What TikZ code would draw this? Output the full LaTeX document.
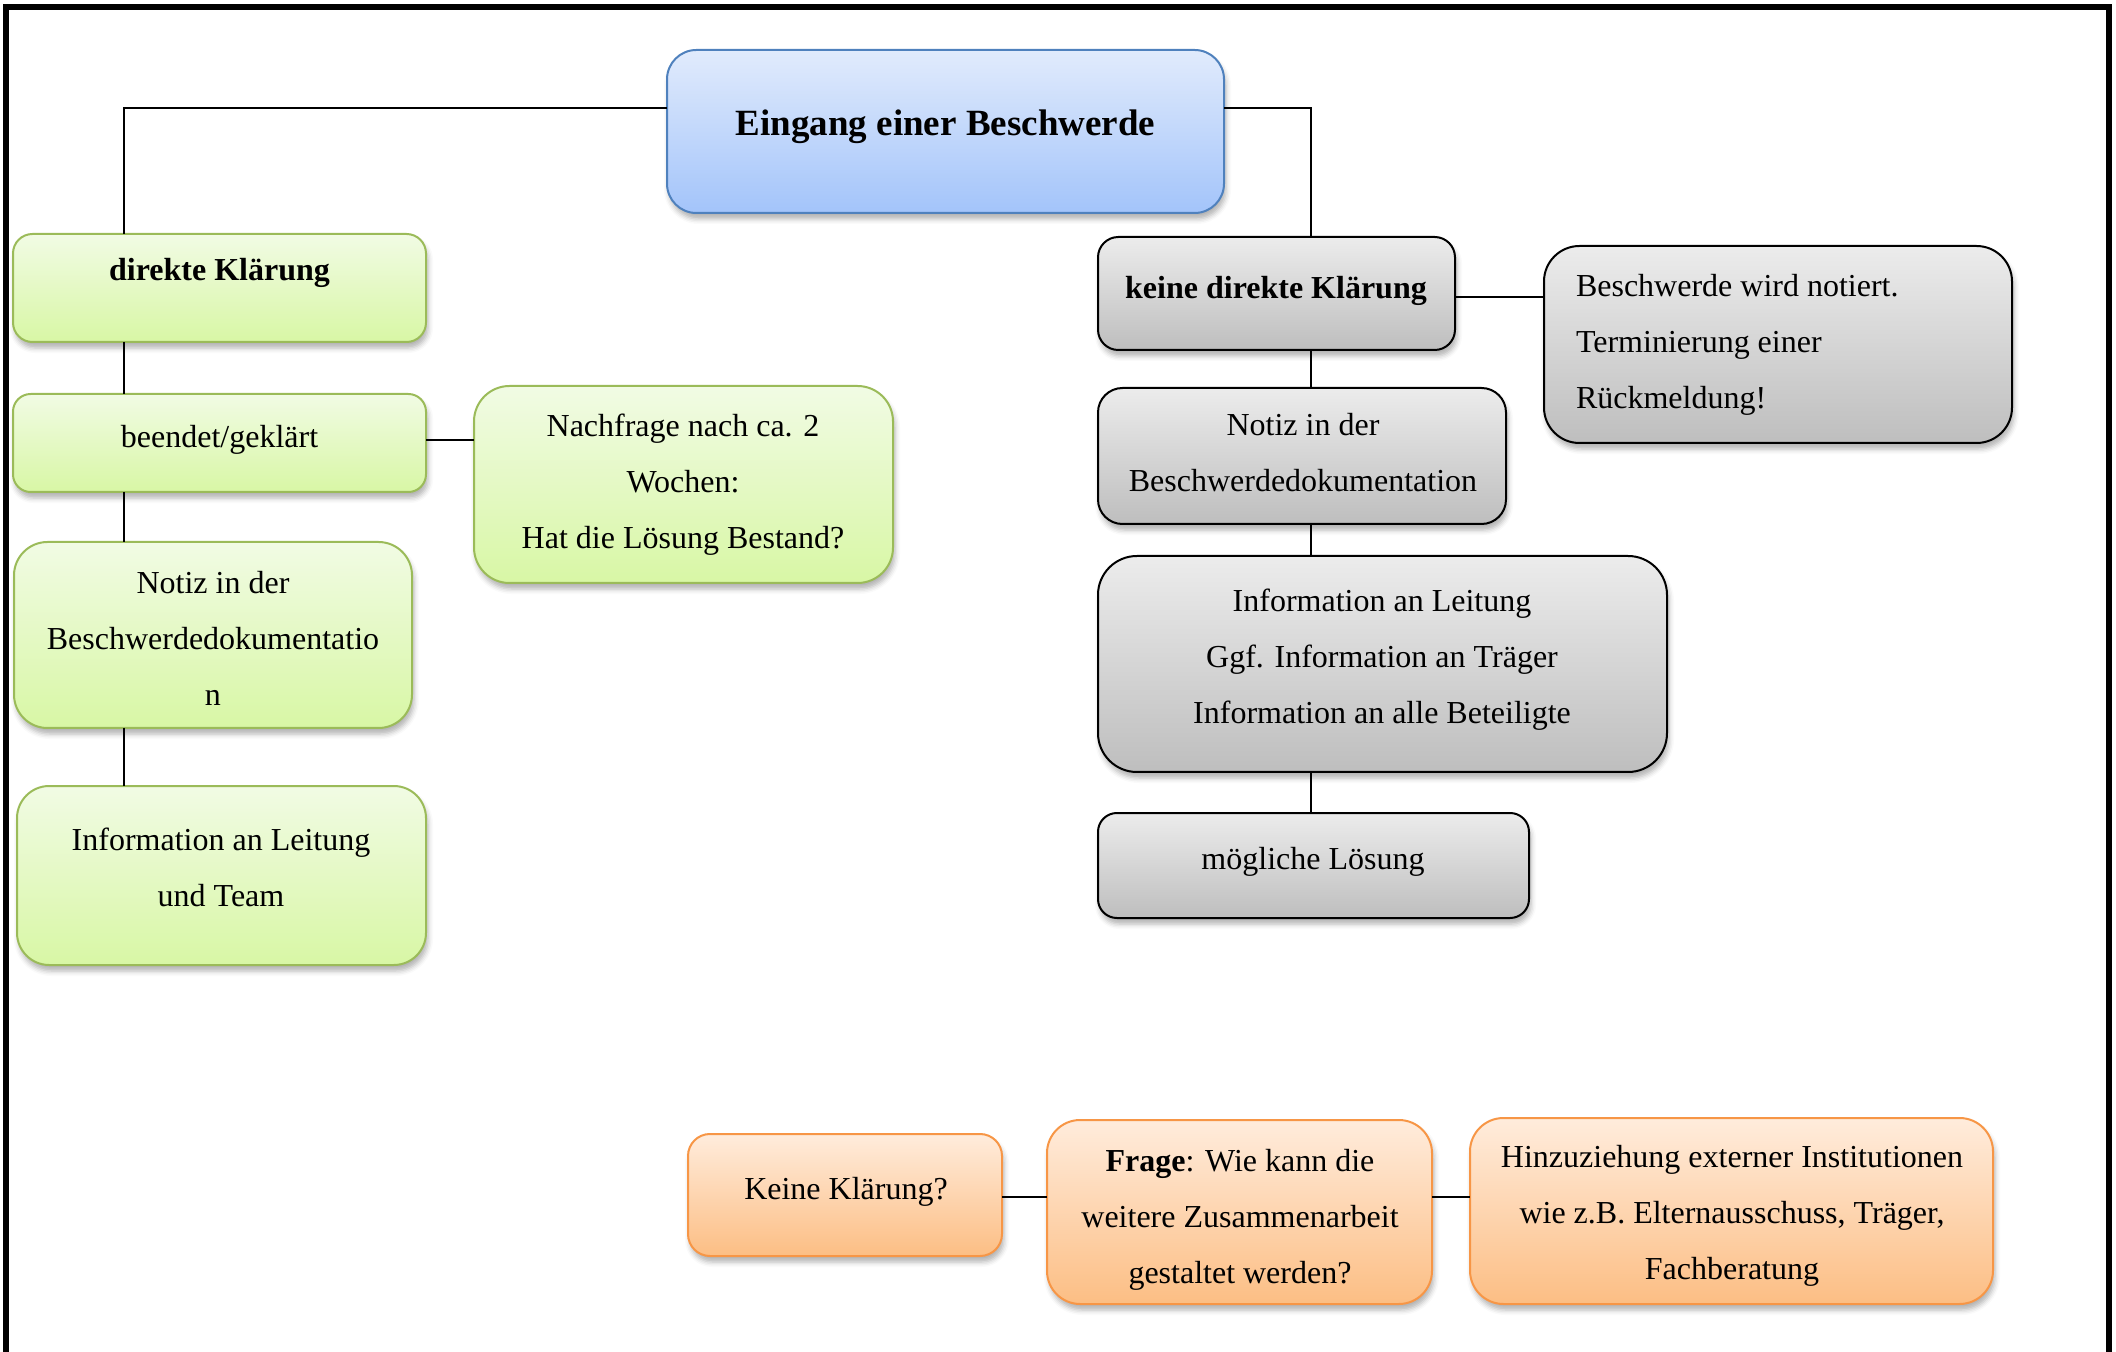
\documentclass[tikz,border=0pt]{standalone}
\usepackage{fontspec}
\setmainfont{Liberation Serif}
\usetikzlibrary{shadows.blur}

% box palettes
\definecolor{blueTop}{RGB}{225,235,252}
\definecolor{blueBot}{RGB}{163,196,250}
\definecolor{blueEdge}{RGB}{79,129,189}
\definecolor{greenTop}{RGB}{241,251,228}
\definecolor{greenBot}{RGB}{216,247,165}
\definecolor{greenEdge}{RGB}{155,187,89}
\definecolor{grayTop}{RGB}{236,236,236}
\definecolor{grayBot}{RGB}{190,190,190}
\definecolor{orangeTop}{RGB}{255,236,220}
\definecolor{orangeBot}{RGB}{252,190,132}
\definecolor{orangeEdge}{RGB}{247,150,70}

\tikzset{
  softshadow/.style={blur shadow={shadow xshift=1pt, shadow yshift=-3pt,
      shadow blur radius=2.5pt, shadow opacity=30}},
  panel/.style={draw, line width=1pt, inner sep=0pt, outer sep=0pt, softshadow},
  bluebox/.style={panel, draw=blueEdge, top color=blueTop, bottom color=blueBot},
  greenbox/.style={panel, draw=greenEdge, top color=greenTop, bottom color=greenBot},
  graybox/.style={panel, draw=black, top color=grayTop, bottom color=grayBot},
  orangebox/.style={panel, draw=orangeEdge, top color=orangeTop, bottom color=orangeBot},
  txt/.style={inner sep=0pt, outer sep=0pt, align=center,
      font=\fontsize{16pt}{28pt}\selectfont},
  link/.style={line width=1pt, black},
}

% rounded box from its corner coordinates: style, name, x1, y1, x2, y2
\newcommand\mkbox[6]{%
  \pgfmathsetmacro\bw{(#5-#3)*0.5}%
  \pgfmathsetmacro\bh{(#6-#4)*0.5}%
  \pgfmathsetmacro\br{min(\bw,\bh)*0.18}%
  \node[#1, minimum width=\bw pt, minimum height=\bh pt, rounded corners=\br pt]
    (#2) at ({(#3+#5)/2},{(#4+#6)/2}) {};%
}

\begin{document}
\begin{tikzpicture}[x=0.5pt, y=-0.5pt]
\useasboundingbox (0,0) rectangle (2116,1352);

% frame
\draw[line width=3pt, line join=miter] (6,1352) -- (6,7) -- (2109,7) -- (2109,1352);

% boxes
\mkbox{bluebox}{eingang}{667}{50}{1224}{213}

\mkbox{greenbox}{direkte}{13}{234}{426}{342}
\mkbox{greenbox}{beendet}{13}{394}{426}{492}
\mkbox{greenbox}{nachfrage}{474}{386}{893}{583}
\mkbox{greenbox}{notizL}{14}{542}{412}{728}
\mkbox{greenbox}{infoL}{17}{786}{426}{965}

\mkbox{graybox}{keine}{1098}{237}{1455}{350}
\mkbox{graybox}{notiert}{1544}{246}{2012}{443}
\mkbox{graybox}{notizR}{1098}{388}{1506}{524}
\mkbox{graybox}{infoR}{1098}{556}{1667}{772}
\mkbox{graybox}{loesung}{1098}{813}{1529}{918}

\mkbox{orangebox}{keineKl}{688}{1134}{1002}{1256}
\mkbox{orangebox}{frage}{1047}{1120}{1432}{1304}
\mkbox{orangebox}{hinzu}{1470}{1118}{1993}{1304}

% connectors
\draw[link] (eingang.west |- 0,108) -| (direkte.north -| 124,0);
\draw[link] (eingang.east |- 0,108) -| (keine.north -| 1311,0);
\draw[link] (direkte.south -| 124,0) -- (beendet.north -| 124,0);
\draw[link] (beendet.east |- 0,440) -- (nachfrage.west |- 0,440);
\draw[link] (beendet.south -| 124,0) -- (notizL.north -| 124,0);
\draw[link] (notizL.south -| 124,0) -- (infoL.north -| 124,0);

\draw[link] (keine.east |- 0,297) -- (notiert.west |- 0,297);
\draw[link] (keine.south -| 1311,0) -- (notizR.north -| 1311,0);
\draw[link] (notizR.south -| 1311,0) -- (infoR.north -| 1311,0);
\draw[link] (infoR.south -| 1311,0) -- (loesung.north -| 1311,0);

\draw[link] (keineKl.east |- 0,1197) -- (frage.west |- 0,1197);
\draw[link] (frage.east |- 0,1197) -- (hinzu.west |- 0,1197);

% texts
\node[txt, font=\fontsize{18.5pt}{24pt}\selectfont\bfseries] (t-eingang) at (945.5,127) {Eingang einer Beschwerde};

\node[txt, font=\fontsize{16pt}{28pt}\selectfont\bfseries] (t-direkte) at (219.5,273) {direkte Klärung};
\node[txt] (t-beendet) at (219.5,440) {beendet/geklärt};
\node[txt] (t-nachfrage) at (683,485) {Nachfrage nach ca. 2\\Wochen:\\Hat die Lösung Bestand?};
\node[txt] (t-notizL) at (213,638) {Notiz in der\\Beschwerdedokumentatio\\n};
\node[txt] (t-infoL) at (221,867) {Information an Leitung\\und Team};

\node[txt, font=\fontsize{16pt}{28pt}\selectfont\bfseries] (t-keine) at (1276,291) {keine direkte Klärung};
\node[txt, align=left, anchor=west] (t-notiert) at (1576,345) {Beschwerde wird notiert.\\Terminierung einer\\Rückmeldung!};
\node[txt] (t-notizR) at (1303,453) {Notiz in der\\Beschwerdedokumentation};
\node[txt] (t-infoR) at (1382,660) {Information an Leitung\\Ggf. Information an Träger\\Information an alle Beteiligte};
\node[txt] (t-loesung) at (1313,862) {mögliche Lösung};

\node[txt] (t-keineKl) at (846,1192) {Keine Klärung?};
\node[txt] (t-frage) at (1240,1220) {\textbf{Frage}: Wie kann die\\weitere Zusammenarbeit\\gestaltet werden?};
\node[txt] (t-hinzu) at (1732,1216) {Hinzuziehung externer Institutionen\\wie z.B. Elternausschuss, Träger,\\Fachberatung};
\end{tikzpicture}
\end{document}
